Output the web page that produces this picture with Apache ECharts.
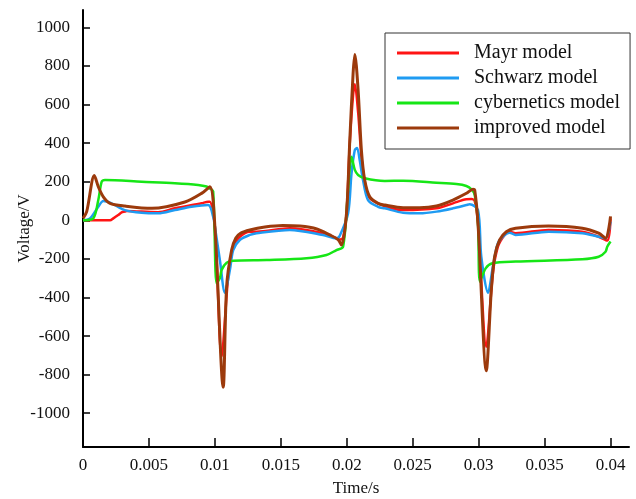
<!DOCTYPE html>
<html>
<head>
<meta charset="utf-8">
<script src="https://cdn.jsdelivr.net/npm/echarts@6/dist/echarts.min.js"></script>
<style>
  html, body { margin: 0; padding: 0; background: #fff; }
  #chart { width: 636px; height: 499px; }
</style>
</head>
<body>
<div id="chart"></div>
<script>
// 刻度
const timeTicks = [0, 0.005, 0.01, 0.015, 0.02, 0.025, 0.03, 0.035, 0.04]
const voltTicks = [-1000, -800, -600, -400, -200, 0, 200, 400, 600, 800, 1000]

// Mayr model
const mayrT = [0, 0.00205, 0.0023, 0.00267, 0.00293, 0.00318, 0.00331, 0.00445, 0.0057, 0.00697, 0.00899, 0.00949, 0.00962,
  0.0100, 0.01051, 0.01101, 0.01139, 0.01189, 0.01265, 0.01316, 0.01568, 0.0182, 0.01922, 0.01947, 0.01972,
  0.01998, 0.02023, 0.02048, 0.02061, 0.02086, 0.02111, 0.02136, 0.02174, 0.02301, 0.02427, 0.0268, 0.02805,
  0.02907, 0.02945, 0.0297, 0.02995, 0.03058, 0.03108, 0.03146, 0.03197, 0.03235, 0.0328, 0.0353, 0.03786,
  0.0391, 0.03975, 0.04]
const mayrV = [0, 0, 10, 27, 41, 45, 48, 45, 42, 62, 88, 96, 96,
  -33, -705, -292, -137, -85, -59, -59, -41, -67, -93, -100, -90,
  36, 400, 650, 705, 560, 330, 200, 114, 70, 53, 62, 88,
  109, 110, 100, -16, -655, -275, -137, -76, -59, -67, -50, -59,
  -85, -105, 10]

// Schwarz model
const schwarzT = [0, 0.00053, 0.00116, 0.00154, 0.00217, 0.00318, 0.00445, 0.0057, 0.00697, 0.00823, 0.00949, 0.00987,
  0.0100, 0.01038, 0.01076, 0.01114, 0.01139, 0.01189, 0.01265, 0.01316, 0.01568, 0.0182, 0.01922, 0.01947,
  0.0201, 0.02036, 0.02061, 0.02078, 0.02098, 0.02123, 0.02161, 0.02237, 0.02288, 0.02427, 0.02553, 0.0268,
  0.02805, 0.02907, 0.02932, 0.02995, 0.0302, 0.03071, 0.03108, 0.03146, 0.03197, 0.03235, 0.0328, 0.0353,
  0.03786, 0.0391, 0.03962, 0.04]
const schwarzV = [0, 10, 70, 100, 88, 53, 39, 36, 53, 70, 79, 19,
  -33, -207, -375, -257, -154, -102, -76, -67, -50, -76, -93, -80,
  36, 243, 364, 375, 312, 209, 105, 70, 62, 39, 36, 45,
  62, 79, 83, 53, -189, -375, -240, -119, -76, -64, -76, -59,
  -67, -85, -93, -7]

// cybernetics model
const cyberT = [0, 0.00078, 0.00116, 0.00142, 0.00167, 0.00445, 0.00697, 0.00873, 0.00937, 0.00962, 0.00987,
  0.01013, 0.01038, 0.01051, 0.01089, 0.01139, 0.01392, 0.01695, 0.01846, 0.01922, 0.01972,
  0.0201, 0.02036, 0.02061, 0.02086, 0.02136, 0.02288, 0.02427, 0.0268, 0.02831, 0.02907, 0.02945, 0.0297,
  0.02995, 0.0301, 0.03053, 0.03104, 0.0328, 0.03786, 0.0391, 0.03962, 0.03975, 0.04]
const cyberV = [0, 10, 105, 200, 209, 200, 192, 183, 175, 165, 150,
  -326, -300, -257, -220, -210, -206, -197, -180, -154, -137,
  157, 330, 261, 235, 218, 204, 205, 195, 188, 178, 161, 131,
  -16, -318, -249, -223, -214, -202, -189, -163, -137, -110]

// improved model
const improvedT = [0, 0.00028, 0.00086, 0.00116, 0.00154, 0.00205, 0.00318, 0.00523, 0.00773, 0.00902, 0.00962,
  0.0100, 0.01063, 0.01089, 0.01127, 0.01159, 0.01197, 0.01265, 0.01379, 0.01515, 0.01644, 0.01773, 0.01871,
  0.01934, 0.0196, 0.01998, 0.02023, 0.02048, 0.02061, 0.02086, 0.02111, 0.02136, 0.02174, 0.02237, 0.02288,
  0.02427, 0.02553, 0.0268, 0.02805, 0.02907, 0.02957, 0.0297, 0.02995, 0.03058, 0.03096, 0.03121, 0.03159,
  0.0321, 0.0328, 0.0353, 0.03786, 0.0391, 0.03962, 0.04]
const improvedV = [10, 45, 232, 174, 122, 88, 74, 62, 95, 141, 174,
  -33, -865, -344, -154, -92, -66, -50, -35, -27, -30, -45, -76,
  -100, -128, 36, 416, 761, 860, 675, 363, 209, 122, 88, 79,
  65, 65, 74, 105, 140, 161, 157, -16, -780, -361, -189, -102,
  -59, -41, -30, -41, -67, -93, 20]

const seriesNames = ['Mayr model', 'Schwarz model', 'cybernetics model', 'improved model']
const seriesColors = ['#ff1414', '#1f9bf2', '#16e616', '#9c3a0c']

const FONT = '"Liberation Serif", "Times New Roman", serif'

function pairs(ts, vs) {
  return ts.map((t, i) => [t, vs[i]])
}

const chart = echarts.init(document.getElementById('chart'))

const dataSets = [
  pairs(mayrT, mayrV),
  pairs(schwarzT, schwarzV),
  pairs(cyberT, cyberV),
  pairs(improvedT, improvedV),
]

chart.setOption({
  animation: false,
  grid: { left: 83, right: 7, top: 10, bottom: 52, outerBoundsMode: 'none', containLabel: false },
  legend: {
    data: seriesNames,
    orient: 'vertical',
    left: 385,
    top: 33,
    icon: 'rect',
    itemWidth: 62,
    itemHeight: 3,
    itemGap: 5,
    padding: [10, 10, 11, 12],
    borderColor: '#333',
    borderWidth: 1,
    backgroundColor: '#fff',
    textStyle: { fontFamily: FONT, fontSize: 20, color: '#111', lineHeight: 20, padding: [0, 0, 0, 10] },
  },
  xAxis: {
    type: 'value',
    min: 0,
    max: 0.0414,
    name: 'Time/s',
    nameLocation: 'middle',
    nameGap: 33,
    nameMoveOverlap: false,
    nameTextStyle: { fontFamily: FONT, fontSize: 17, color: '#111' },
    axisLine: { onZero: false, lineStyle: { color: '#000', width: 2 } },
    axisTick: { inside: true, length: 9, customValues: timeTicks, lineStyle: { color: '#000', width: 1.5 } },
    axisLabel: {
      customValues: timeTicks,
      margin: 10,
      fontFamily: FONT, fontSize: 17, color: '#111',
      formatter: v => String(+v.toFixed(3)),
    },
    splitLine: { show: false },
  },
  yAxis: {
    type: 'value',
    min: -1175,
    max: 1090,
    name: 'Voltage/V',
    nameLocation: 'middle',
    nameGap: 50,
    nameMoveOverlap: false,
    nameTextStyle: { fontFamily: FONT, fontSize: 17, color: '#111' },
    axisLine: { show: true, lineStyle: { color: '#000', width: 2 } },
    axisTick: { show: true, inside: true, length: 7, customValues: voltTicks, lineStyle: { color: '#000', width: 1.5 } },
    axisLabel: {
      customValues: voltTicks,
      margin: 13,
      fontFamily: FONT, fontSize: 17, color: '#111',
      formatter: v => String(v),
    },
    splitLine: { show: false },
  },
  series: dataSets.map((d, i) => ({
    name: seriesNames[i],
    type: 'line',
    data: d,
    symbol: 'none',
    smooth: 0.3,
    color: seriesColors[i],
    lineStyle: { width: i === 3 ? 3 : 2.5, color: seriesColors[i] },
    z: 2 + i,
  })),
})
</script>
</body>
</html>
